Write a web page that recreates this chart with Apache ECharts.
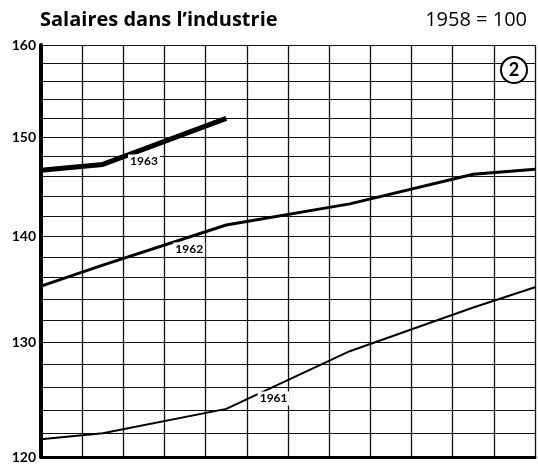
<!DOCTYPE html>
<html>
<head>
<meta charset="utf-8">
<script src="https://cdn.jsdelivr.net/npm/echarts@6/dist/echarts.min.js"></script>
<style>
  html, body { margin: 0; padding: 0; background: #fff; }
  #chart { width: 538px; height: 464px; }
</style>
</head>
<body>
<div id="chart"></div>
<script>
// x = month position (0 = start of January, 12 = end of December)
const months1961 = [0, 1.5, 4.5, 7.5, 10.5, 12];
const values1961 = [121.5, 122.0, 124.1, 129.2, 133.2, 135.1];

const months1962 = [0, 1.5, 4.5, 7.5, 10.5, 12];
const values1962 = [135.2, 137.2, 141.1, 143.2, 146.2, 146.7];

const months1963 = [0, 1.5, 4.5];
const values1963 = [146.6, 147.2, 152.0];

// horizontal grid every 2 points, labels every 10 (log scale)
const gridValues = [];
for (let v = 120; v <= 160; v += 2) gridValues.push(v);
const yTickLabels = [120, 130, 140, 150, 160];

const pairs = (xs, ys) => xs.map((x, i) => [x, ys[i]]);

const chart = echarts.init(document.getElementById('chart'));

function yearLabel(text, coord) {
  return {
    symbol: 'rect',
    symbolSize: 1,
    itemStyle: { color: 'transparent' },
    label: {
      show: true,
      position: 'inside',
      formatter: text,
      color: '#000',
      fontFamily: 'Lato',
      fontWeight: 'bold',
      fontSize: 12,
      backgroundColor: '#fff',
      padding: [1, 2]
    },
    data: [{ coord: coord }]
  };
}

const option = {
  animation: false,
  backgroundColor: '#fff',
  grid: { left: 41, right: 3, top: 45, bottom: 2 },
  title: [
    {
      text: 'Salaires dans l’industrie',
      left: 35, top: 5,
      textStyle: { fontFamily: 'Open Sans', fontWeight: 'bold', fontSize: 20, color: '#000' }
    },
    {
      text: '1958 = 100',
      right: 6, top: 5,
      textStyle: { fontFamily: 'Open Sans', fontWeight: 'normal', fontSize: 20, color: '#000' }
    }
  ],
  xAxis: {
    type: 'value',
    min: 0,
    max: 12,
    interval: 1,
    axisLine: { show: true, onZero: false, lineStyle: { color: '#000', width: 3 } },
    axisTick: { show: false },
    axisLabel: { show: false },
    splitLine: { show: true, lineStyle: { color: '#111', width: 1.3 } }
  },
  yAxis: {
    type: 'log',
    logBase: 10,
    min: 120,
    max: 160,
    axisLine: { show: true, lineStyle: { color: '#000', width: 4 } },
    axisTick: { show: false, customValues: gridValues },
    axisLabel: {
      customValues: yTickLabels,
      color: '#000',
      fontFamily: 'Lato',
      fontWeight: 'bold',
      fontSize: 14,
      margin: 5,
      padding: [0, 0, 6, 0]
    },
    splitLine: { show: true, lineStyle: { color: '#111', width: 1 } }
  },
  graphic: [
    {
      type: 'circle',
      shape: { cx: 514, cy: 70, r: 13 },
      style: { fill: '#fff', stroke: '#000', lineWidth: 2 },
      z: 100
    },
    {
      type: 'text',
      x: 514, y: 70,
      style: {
        text: '2', fill: '#000', fontFamily: 'Lato', fontWeight: 'bold', fontSize: 18,
        align: 'center', verticalAlign: 'middle'
      },
      z: 101
    }
  ],
  series: [
    {
      name: '1961',
      type: 'line',
      data: pairs(months1961, values1961),
      showSymbol: false,
      lineStyle: { color: '#000', width: 2 },
      markPoint: yearLabel('1961', [5.65, 125])
    },
    {
      name: '1962',
      type: 'line',
      data: pairs(months1962, values1962),
      showSymbol: false,
      lineStyle: { color: '#000', width: 3 },
      markPoint: yearLabel('1962', [3.6, 138.7])
    },
    {
      name: '1963',
      type: 'line',
      data: pairs(months1963, values1963),
      showSymbol: false,
      lineStyle: { color: '#000', width: 5 },
      markPoint: yearLabel('1963', [2.5, 147.5])
    }
  ]
};

chart.setOption(option);
</script>
</body>
</html>
